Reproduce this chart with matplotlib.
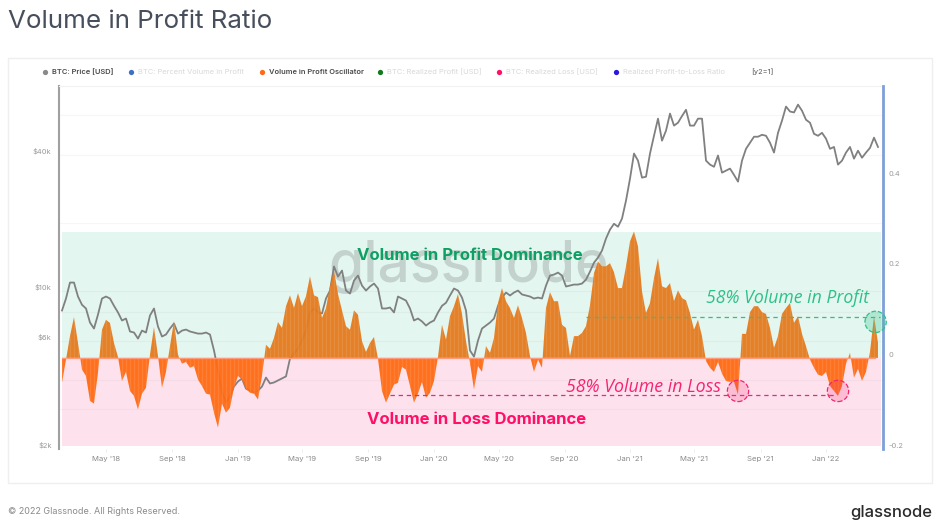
#!/usr/bin/env python3
import matplotlib
matplotlib.use('Agg')
import matplotlib.pyplot as plt
import matplotlib.dates as mdates
from matplotlib.patches import Rectangle
from matplotlib.ticker import NullLocator
import numpy as np
import pandas as pd

plt.rcParams['font.family'] = ['Inter', 'DejaVu Sans']

# values, one sample about every 7.5 days
price = [
    8160, 9220, 10850, 10850, 9410, 8650, 8330, 7220, 6790, 7830,
    9220, 9410, 9220, 8560, 8000, 7370, 7520, 6590, 6520, 6130,
    6650, 6520, 7760, 8330, 6930, 6260, 6390, 6790, 7150, 6450,
    6650, 6720, 6590, 6520, 6450, 6450, 6520, 6390, 5430, 4430,
    3540, 3200, 3400, 3760, 3960, 4080, 3680, 3610, 3540, 3610,
    3760, 4120, 3880, 3920, 4000, 4080, 4170, 5000, 5260, 5540,
    6010, 6650, 8000, 8330, 8000, 7920, 9220, 10000, 12780, 11530,
    12260, 10000, 9700, 11070, 11650, 10520, 10000, 10420, 10740, 10210,
    8330, 8330, 8410, 8000, 9410, 9220, 9030, 8330, 7370, 7520,
    7300, 7000, 7220, 7370, 8000, 8560, 8830, 9510, 10210, 10000,
    9310, 8160, 5430, 5100, 6010, 6790, 7000, 7220, 7520, 8560,
    9310, 9800, 9510, 9800, 10000, 9610, 9510, 9410, 9220, 9310,
    9220, 10520, 11650, 11770, 12010, 11650, 10420, 10520, 10630, 10630,
    10740, 11180, 12130, 13290, 13990, 15030, 16990, 18610, 19750, 19160,
    20820, 25000, 31280, 40400, 37580, 31600, 31900, 40400, 48420, 57650,
    46060, 51000, 60700, 53700, 55300, 59200, 63100, 53700, 53700, 57650,
    57650, 37580, 36100, 35300, 39600, 33250, 33940, 34650, 32500, 30340,
    37580, 42400, 45100, 47950, 47950, 48900, 48420, 45100, 40800, 49900,
    56480, 65200, 62000, 61400, 66500, 62500, 57000, 55300, 49400, 48420,
    49900, 47000, 42400, 43200, 36100, 37580, 40800, 43200, 38350, 41600,
    38700, 40800, 42800, 47500, 43200]

oscillator = [
    -.055, -.004, .048, .090, .033, -.026, -.040, -.095, -.101, -.033,
    .062, .084, .077, .033, .002, -.051, -.031, -.073, -.084, -.114,
    -.079, -.066, .007, .068, .004, -.066, -.031, .026, .081, .007,
    -.013, -.009, -.022, -.018, -.048, -.062, -.079, -.081, -.121, -.154,
    -.101, -.121, -.110, -.066, -.040, -.048, -.068, -.077, -.079, -.092,
    -.040, .029, .020, .044, .079, .066, .114, .138, .110, .143,
    .114, .136, .180, .138, .134, .088, .110, .158, .193, .141,
    .105, .070, .062, .105, .095, .037, .013, .033, .046, -.002,
    -.073, -.099, -.079, -.059, -.055, -.020, -.026, -.062, -.099, -.079,
    -.053, -.088, -.077, -.051, .002, .073, .040, .092, .114, .141,
    .097, .037, -.011, -.070, -.018, -.031, .026, .011, .044, .121,
    .154, .125, .110, .088, .116, .088, .055, .004, -.031, -.004,
    -.022, .110, .145, .125, .125, .073, .066, .004, .048, .048,
    .055, .070, .116, .187, .213, .202, .202, .209, .189, .154,
    .154, .202, .257, .279, .246, .147, .099, .121, .176, .220,
    .158, .154, .165, .125, .149, .132, .127, .099, .062, .084,
    .048, -.007, -.022, -.031, -.009, -.035, -.051, -.053, -.053, -.081,
    .053, .053, .101, .114, .114, .101, .097, .066, .022, .048,
    .097, .110, .121, .077, .092, .053, .026, -.004, -.022, -.037,
    -.040, -.031, -.062, -.073, -.084, -.062, -.013, .011, -.044, -.024,
    -.051, -.031, .013, .092, .033]

price_ticks = [2000, 6000, 10000, 40000]
price_labels = ['$2k', '$6k', '$10k', '$40k']
price_grid = [3000, 4000, 8000, 20000, 60000]
osc_ticks = [-0.2, 0, 0.2, 0.4]
osc_labels = ['-0.2', '0', '0.2', '0.4']
month_ticks = ['2018-05-01', '2018-09-01', '2019-01-01', '2019-05-01', '2019-09-01', '2020-01-01',
               '2020-05-01', '2020-09-01', '2021-01-01', '2021-05-01', '2021-09-01', '2022-01-01']
month_labels = ["May '18", "Sep '18", "Jan '19", "May '19", "Sep '19", "Jan '20",
                "May '20", "Sep '20", "Jan '21", "May '21", "Sep '21", "Jan '22"]
legend_names = ['BTC: Price [USD]', 'BTC: Percent Volume in Profit', 'Volume in Profit Oscillator',
                'BTC: Realized Profit [USD]', 'BTC: Realized Loss [USD]', 'Realized Profit-to-Loss Ratio']
legend_dots = ['#8a8a8a', '#3d6fc4', '#ff6a13', '#0f7a1e', '#ff0f66', '#2a18e0']
legend_x = [45, 131, 262, 380, 499, 616]
legend_on = [True, False, True, False, False, False]

dates = pd.Timestamp('2018-02-08') + pd.to_timedelta(range(len(price)), unit='D') * 7.45
osc = np.array(oscillator)

W, H = 940, 528
fig = plt.figure(figsize=(W / 100, H / 100), dpi=100)

# furniture in pixel coordinates
bg = fig.add_axes([0, 0, 1, 1])
bg.set_xlim(0, W)
bg.set_ylim(H, 0)
bg.axis('off')
bg.add_patch(Rectangle((8, 58), 924, 425, fill=False, edgecolor='#efefef', lw=1))
bg.text(8, 22, 'Volume in Profit Ratio', fontsize=18.7, color='#474e5c', va='center')
bg.text(8, 512, '\u00a9 2022 Glassnode. All Rights Reserved.', fontsize=6.5, color='#8a8a8a', va='center')
bg.text(932, 512, 'glassnode', fontsize=12, color='#2b2b2b', va='center', ha='right', fontweight='medium')
for name, col, x, on in zip(legend_names, legend_dots, legend_x, legend_on):
    bg.plot([x], [72], 'o', ms=3.8, color=col, mew=0)
    bg.text(x + 7, 72, name, fontsize=5.4, va='center', color='#4a4a4a' if on else '#d8d8d8',
            fontweight='semibold' if on else 'normal')
bg.text(751, 72, '[y2=1]', fontsize=5.4, va='center', color='#555555')

ax = fig.add_axes([58.5 / W, 1 - 448.5 / H, 824.5 / W, 362.5 / H])
ax.patch.set_alpha(0)
x0 = mdates.date2num(dates[0]) - 6.5
x1 = mdates.date2num(dates[-1]) + 9.3

# zones, in oscillator units
zone_top, zone_bot = 0.278, -0.194
def frac(v):
    return (v + 0.2) / 0.8
ax.add_patch(Rectangle((0.004, frac(0)), 0.993, frac(zone_top) - frac(0), transform=ax.transAxes,
                       color='#e3f6ef', lw=0, zorder=0.5))
ax.add_patch(Rectangle((0.004, frac(zone_bot)), 0.993, frac(0) - frac(zone_bot), transform=ax.transAxes,
                       color='#fde2ee', lw=0, zorder=0.5))

ax.set_yscale('log')
ax.set_ylim(2000, 80400)
ax.set_xlim(x0, x1)
for g in price_grid + price_ticks:
    ax.axhline(g, color='#8a8a8a', alpha=0.07, lw=0.8, zorder=1)
ax.text(0.327, 0.459, 'glassnode', transform=ax.transAxes, fontsize=41, color='#a9b5b2', alpha=0.55,
        va='baseline', zorder=1.5, fontweight='medium')
ax.plot(dates, price, color='#808080', lw=1.3, zorder=2)

ax.set_yticks(price_ticks, price_labels)
ax.yaxis.set_minor_locator(NullLocator())
ax.tick_params(axis='y', length=0, pad=5, labelsize=5.4, labelcolor='#9a9a9a')
for lab in ax.get_yticklabels():
    lab.set_va('bottom')
ax.set_xticks(mdates.date2num(pd.to_datetime(month_ticks)), month_labels)
ax.tick_params(axis='x', length=2, width=0.5, color='#e8e8e8', pad=3.5, labelsize=5.6, labelcolor='#8a8a8a')
for s in ['bottom', 'right']:
    ax.spines[s].set_visible(False)
ax.spines['top'].set_color('#f2f2f2')
ax.spines['left'].set_color('#a0a0a0')
ax.spines['left'].set_linewidth(1.5)

ax2 = ax.twinx()
ax2.set_ylim(-0.2, 0.6)
ax2.set_xlim(x0, x1)
nums = mdates.date2num(dates)
ax2.fill_between(nums, osc, 0, where=osc >= 0, interpolate=True, color='#e57a1c', lw=0, alpha=0.95, zorder=2)
ax2.fill_between(nums, osc, 0, where=osc <= 0, interpolate=True, color='#ff6a13', lw=0, alpha=0.95, zorder=2)
# the lighter stripes of the daily bars
ax2.vlines(nums, 0, osc, color='#ffffff', alpha=0.1, lw=1, zorder=2.5)
ax2.axhline(0, xmin=0.004, xmax=0.99, color='#ff9a7a', lw=0.9, zorder=3)

ax2.set_yticks(osc_ticks, osc_labels)
ax2.tick_params(axis='y', length=0, pad=4, labelsize=5.4, labelcolor='#9a9a9a')
for lab in ax2.get_yticklabels():
    lab.set_va('bottom')
for s in ['top', 'bottom', 'left']:
    ax2.spines[s].set_visible(False)
ax2.spines['right'].set_color('#7f9fdb')
ax2.spines['right'].set_linewidth(2)

# target levels and markers
green = '#2dc18a'
pink = '#f5246f'
ax2.plot([dates[131], dates[-1] + pd.Timedelta(days=3)], [0.0894, 0.0894], color=green, lw=0.9, ls=(0, (3.5, 3)), zorder=4)
ax2.plot([dates[82], dates[193]], [-0.0817, -0.0817], color=pink, lw=0.9, ls=(0, (3.5, 3)), zorder=4)
ax2.scatter([dates[203] + pd.Timedelta(days=3)], [0.0795], s=235, facecolor=(0.18, 0.76, 0.54, 0.28),
            edgecolor=green, linewidth=0.9, linestyle='--', zorder=5, clip_on=False)
ax2.scatter([dates[169], dates[194]], [-0.073, -0.073], s=235, facecolor=(0.96, 0.14, 0.44, 0.2),
            edgecolor=pink, linewidth=0.9, linestyle='--', zorder=5)

ax2.text(dates[102], 0.226, 'Volume in Profit Dominance', fontsize=12, fontweight='bold', color='#0e9f63',
         ha='center', va='center', zorder=6)
ax2.text(dates[131], -0.135, 'Volume in Loss Dominance', fontsize=12, fontweight='bold', color='#ff0f66',
         ha='right', va='center', zorder=6)
ax2.text(dates[161], 0.133, '58% Volume in Profit', fontsize=12.7, family='Open Sans', style='italic', color=green,
         ha='left', va='center', zorder=6)
ax2.text(dates[126], -0.065, '58% Volume in Loss', fontsize=12.8, family='Open Sans', style='italic', color=pink,
         ha='left', va='center', zorder=6)

fig.savefig('out.png', dpi=100)
